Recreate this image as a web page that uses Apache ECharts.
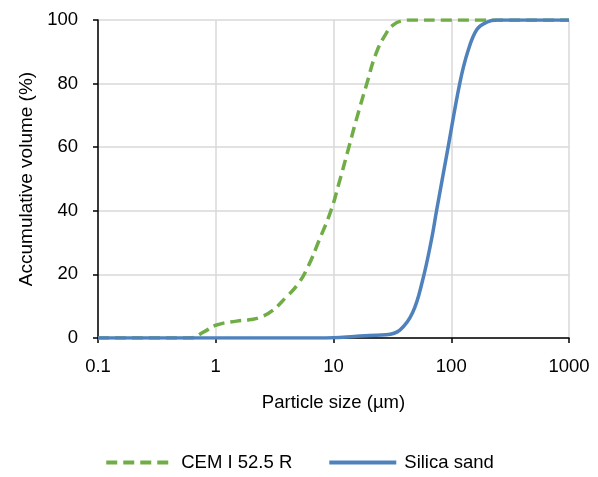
<!DOCTYPE html>
<html>
<head>
<meta charset="utf-8">
<script src="https://cdn.jsdelivr.net/npm/echarts@6/dist/echarts.min.js"></script>
<style>
  html, body { margin: 0; padding: 0; background: #fff; }
  #chart { width: 598px; height: 477px; }
</style>
</head>
<body>
<div id="chart"></div>
<script>
// particle size (µm) and accumulative volume (%)
var cemSize = [0.1, 0.3, 0.6, 0.8, 1, 1.5, 2, 2.5, 3, 4, 5, 6, 7.6, 9.5, 11, 13.5, 16, 19.2, 23, 28, 32, 38, 45, 100, 1000];
var cemVolume = [0, 0, 0, 2, 4, 5.3, 5.8, 6.8, 8.5, 13, 17, 22, 31, 40, 48, 60, 70, 80, 89.5, 95.8, 98.4, 99.7, 100, 100, 100];

var sandSize = [0.1, 1, 5, 10, 15, 20, 28, 36.6, 47, 57, 68, 75, 93, 118, 138, 165, 200, 243, 1000];
var sandVolume = [0, 0, 0, 0.1, 0.5, 0.8, 1.0, 2.5, 8, 18, 31, 40, 59, 80, 90, 97, 99.3, 100, 100];

var xTicks = [0.1, 1, 10, 100, 1000];
var yTicks = [0, 20, 40, 60, 80, 100];

function pairs(xs, ys) {
  var out = [];
  for (var i = 0; i < xs.length; i++) {
    out.push([xs[i], ys[i]]);
  }
  return out;
}

var myChart = echarts.init(document.getElementById('chart'));

var option = {
  animation: false,
  textStyle: {
    fontFamily: 'Liberation Sans, Arial, sans-serif'
  },
  grid: {
    left: 98,
    right: 29,
    top: 20,
    bottom: 139
  },
  legend: {
    bottom: 0,
    left: 'center',
    itemWidth: 67,
    itemHeight: 14,
    itemGap: 35,
    itemStyle: { opacity: 0 },
    lineStyle: { width: 4 },
    textStyle: {
      fontSize: 18.5,
      color: '#000',
      padding: [0, 0, 0, 3]
    },
    data: ['CEM I 52.5 R', 'Silica sand']
  },
  xAxis: {
    type: 'log',
    logBase: 10,
    min: xTicks[0],
    max: xTicks[xTicks.length - 1],
    name: 'Particle size (µm)',
    nameLocation: 'middle',
    nameGap: 55,
    nameTextStyle: {
      fontSize: 18.5,
      color: '#000'
    },
    axisLine: {
      lineStyle: { color: '#000', width: 1.5 }
    },
    axisTick: {
      show: true,
      inside: false,
      length: 5,
      lineStyle: { color: '#000', width: 1.5 }
    },
    axisLabel: {
      fontSize: 18.5,
      color: '#000',
      margin: 19,
      formatter: function(v) {
        return String(Number(v.toPrecision(3)));
      }
    },
    splitLine: {
      show: true,
      lineStyle: { color: '#d9d9d9', width: 1.5 }
    }
  },
  yAxis: {
    type: 'value',
    min: yTicks[0],
    max: yTicks[yTicks.length - 1],
    interval: 20,
    name: 'Accumulative volume (%)',
    nameLocation: 'middle',
    nameGap: 60,
    nameTextStyle: {
      fontSize: 19,
      color: '#000'
    },
    axisLine: {
      show: true,
      lineStyle: { color: '#000', width: 1.5 }
    },
    axisTick: {
      show: true,
      length: 5,
      lineStyle: { color: '#000', width: 1.5 }
    },
    axisLabel: {
      fontSize: 18.5,
      color: '#000',
      margin: 20
    },
    splitLine: {
      lineStyle: { color: '#d9d9d9', width: 1.5 }
    }
  },
  series: [{
    name: 'CEM I 52.5 R',
    type: 'line',
    smooth: 0.5,
    symbol: 'none',
    z: 3,
    itemStyle: { color: '#70ad47' },
    lineStyle: {
      color: '#70ad47',
      width: 3.5,
      type: [11, 6]
    },
    data: pairs(cemSize, cemVolume)
  }, {
    name: 'Silica sand',
    type: 'line',
    smooth: 0.4,
    symbol: 'none',
    z: 4,
    itemStyle: { color: '#4f81bd' },
    lineStyle: {
      color: '#4f81bd',
      width: 3.5
    },
    data: pairs(sandSize, sandVolume)
  }]
};

myChart.setOption(option);
</script>
</body>
</html>
